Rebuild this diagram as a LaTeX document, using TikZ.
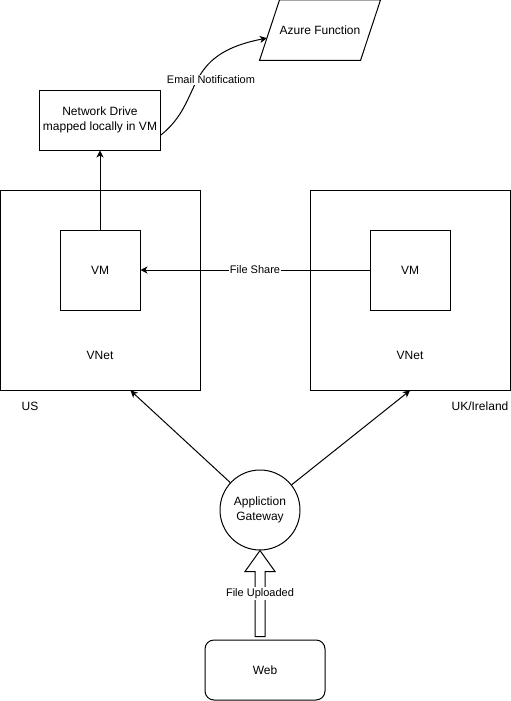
\documentclass[tikz,border=0pt]{standalone}
\usepackage{fontspec}
\setmainfont{Liberation Sans}
\usetikzlibrary{arrows.meta,calc}
\begin{document}
\begin{tikzpicture}[x=1pt, y=-1pt, line width=1pt,
  font=\fontsize{12}{15}\selectfont,
  >={Stealth[length=7pt,width=7pt,inset=2pt]},
  box/.style={draw, minimum width=#1, minimum height=#1, inner sep=0pt},
  lbl/.style={font=\fontsize{11}{13}\selectfont, fill=white, inner sep=1pt}]

\useasboundingbox (0,0) rectangle (511,701);

% top: drive and function
\node[minimum width=120, minimum height=59.5, inner sep=0pt] (azure) at (320,30.25) {Azure Function};
\draw (azure.south west) -- ([xshift=20]azure.north west) -- (azure.north east)
  -- ([xshift=-20]azure.south east) -- cycle;
\coordinate (azin) at ($(azure.south west)!0.37!([xshift=20]azure.north west)$);

\node[draw, align=center, minimum width=120, minimum height=60] (drive) at (100,120)
  {Network Drive\\mapped locally in VM};

\draw[->] ([yshift=-15]drive.east) .. controls (205,100) and (180,55) .. (azin);
\node[lbl] (mail) at (211,80) {Email Notificatiom};

% the two regions
\node[box=200] (usnet) at (100.5,290) {};
\node[box=80] (usvm) at (100,270) {VM};
\node (usvnet) at (100,355) {VNet};
\node (us) at (30,406) {US};

\node[box=200] (uknet) at (410,290) {};
\node[box=80] (ukvm) at (410,270) {VM};
\node (ukvnet) at (410,355) {VNet};
\node (uk) at (480,406) {UK/Ireland};

\draw[->] (usvm.north) -- (drive.south);
\draw[->] (ukvm.west) -- node[lbl] (share) {File Share} (usvm.east);

% gateway and web
\node[draw, circle, align=center, minimum size=80, inner sep=0pt] (gw) at (260,510)
  {Appliction\\Gateway};
\draw[->] (gw) -- ([xshift=30]usnet.south);
\draw[->] (gw) -- (uknet.south);

\node[draw, rounded corners=9, minimum width=120, minimum height=60] (web) at (265,670) {Web};

\draw[fill=white] (gw.south) -- ++(15,21) -- ++(-10,0) -- ++(0,65) -- ++(-10,0)
  -- ++(0,-65) -- ++(-10,0) -- cycle;
\node[lbl] (upload) at ([yshift=-43]gw.south) {File Uploaded};

\end{tikzpicture}
\end{document}
